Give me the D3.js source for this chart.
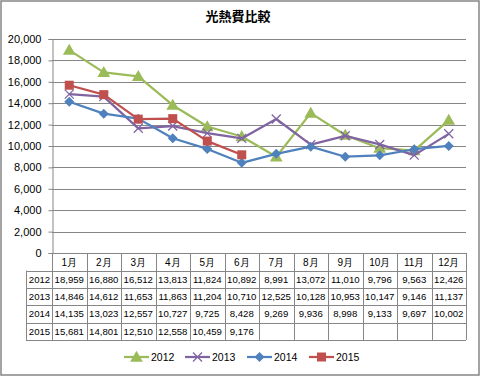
<!DOCTYPE html>
<html>
<head>
<meta charset="utf-8">
<script src="https://cdn.jsdelivr.net/npm/d3@7"></script>
<style>
  body { margin: 0; background: #fff; }
  svg text { font-family: "Liberation Sans", Arial, sans-serif; fill: #000; }
</style>
</head>
<body>
<svg id="chart" width="481" height="377"></svg>
<script>
// values
var months = ["1月", "2月", "3月", "4月", "5月", "6月", "7月", "8月", "9月", "10月", "11月", "12月"];
var years = ["2012", "2013", "2014", "2015"];
var v2012 = [18959, 16880, 16512, 13813, 11824, 10892, 8991, 13072, 11010, 9796, 9563, 12426];
var v2013 = [14846, 14612, 11653, 11863, 11204, 10710, 12525, 10128, 10953, 10147, 9146, 11137];
var v2014 = [14135, 13023, 12557, 10727, 9725, 8428, 9269, 9936, 8998, 9133, 9697, 10002];
var v2015 = [15681, 14801, 12510, 12558, 10459, 9176];
var yTicks = [0, 2000, 4000, 6000, 8000, 10000, 12000, 14000, 16000, 18000, 20000];

var seriesVals = [v2012, v2013, v2014, v2015];
var colors = ["#9bbb59", "#8064a2", "#4f81bd", "#c0504d"];
var shapes = ["triangle", "cross", "diamond", "square"];

var svg = d3.select("#chart");
var fmt = d3.format(",");

var x = d3.scaleBand().domain(months).range([52, 466]);
var y = d3.scaleLinear().domain([0, 20000]).range([253, 39]);

// outer border
svg.append("rect")
    .attr("x", 1).attr("y", 1).attr("width", 478).attr("height", 374)
    .attr("fill", "#fff").attr("stroke", "#868686").attr("stroke-width", 1.5);

// title
svg.append("text")
    .attr("x", 238).attr("y", 21)
    .attr("text-anchor", "middle")
    .style("font-size", "13px").style("font-weight", "bold")
    .style("font-family", "'Noto Sans CJK JP', sans-serif")
    .text("光熱費比較");

// gridlines
svg.append("g").selectAll("line").data(yTicks.filter(function (d) { return d > 0; }))
    .enter().append("line")
    .attr("x1", 52).attr("x2", 466)
    .attr("y1", function (d) { return Math.round(y(d)) + 0.5; })
    .attr("y2", function (d) { return Math.round(y(d)) + 0.5; })
    .attr("stroke", "#868686").attr("stroke-width", 1);

// y axis
var yAxis = svg.append("g")
    .attr("transform", "translate(52.5,0)")
    .call(d3.axisLeft(y).tickValues(yTicks).tickFormat(fmt).tickSize(4).tickPadding(7));
yAxis.select(".domain").attr("stroke", "#868686");
yAxis.selectAll(".tick line").attr("stroke", "#868686");
yAxis.selectAll("text").style("font-size", "11px").attr("fill", "#000")
    .style("font-family", "'Liberation Sans', Arial, sans-serif");

// data table
var rowTop = 253, headH = 17.7, rowH = 17.3;
var tbl = svg.append("g");
var tblBottom = rowTop + headH + rowH * 4;
// horizontal lines
tbl.append("line").attr("x1", 52).attr("x2", 466).attr("y1", rowTop + 0.5).attr("y2", rowTop + 0.5)
    .attr("stroke", "#868686");
[0, 1, 2, 3, 4].forEach(function (i) {
    var yy = Math.round(rowTop + headH + rowH * i) + 0.5;
    tbl.append("line").attr("x1", 26).attr("x2", 466).attr("y1", yy).attr("y2", yy)
        .attr("stroke", "#868686");
});
// vertical lines
tbl.append("line").attr("x1", 26.5).attr("x2", 26.5)
    .attr("y1", rowTop + headH).attr("y2", tblBottom).attr("stroke", "#868686");
months.forEach(function (m) {
    var xx = Math.round(x(m)) + 0.5;
    tbl.append("line").attr("x1", xx).attr("x2", xx)
        .attr("y1", rowTop).attr("y2", tblBottom).attr("stroke", "#868686");
});
tbl.append("line").attr("x1", 466.5).attr("x2", 466.5)
    .attr("y1", rowTop).attr("y2", tblBottom).attr("stroke", "#868686");

// month header
tbl.selectAll("text.month").data(months).enter().append("text")
    .attr("class", "month")
    .attr("x", function (d) { return x(d) + x.bandwidth() / 2; })
    .attr("y", rowTop + headH / 2 + 4)
    .attr("text-anchor", "middle")
    .style("font-size", "10px")
    .text(function (d) { return d; });

// rows
years.forEach(function (yr, i) {
    var cy = rowTop + headH + rowH * i + rowH / 2 + 3.5;
    tbl.append("text").attr("x", 39.5).attr("y", cy).attr("text-anchor", "middle")
        .style("font-size", "9.6px").text(yr);
    tbl.selectAll("text.v" + yr).data(seriesVals[i]).enter().append("text")
        .attr("class", "v" + yr)
        .attr("x", function (d, j) { return x(months[j]) + x.bandwidth() / 2; })
        .attr("y", cy)
        .attr("text-anchor", "middle")
        .style("font-size", "9.6px")
        .text(function (d) { return fmt(d); });
});

// marker drawing
function marker(g, shape, color, cx, cy) {
    if (shape == "triangle") {
        g.append("path").attr("d", d3.symbol(d3.symbolTriangle, 70)())
            .attr("transform", "translate(" + cx + "," + (cy + 1) + ")")
            .attr("fill", color);
    } else if (shape == "diamond") {
        g.append("path").attr("d", "M0,-5L5,0L0,5L-5,0Z")
            .attr("transform", "translate(" + cx + "," + cy + ")")
            .attr("fill", color);
    } else if (shape == "square") {
        g.append("rect").attr("x", cx - 4.5).attr("y", cy - 4.5)
            .attr("width", 9).attr("height", 9).attr("fill", color);
    } else {
        g.append("path").attr("d", "M-4.5,-4.5L4.5,4.5M-4.5,4.5L4.5,-4.5")
            .attr("transform", "translate(" + cx + "," + cy + ")")
            .attr("stroke", color).attr("stroke-width", 1.3).attr("fill", "none");
    }
}

// lines
var line = d3.line()
    .x(function (d, j) { return x(months[j]) + x.bandwidth() / 2; })
    .y(function (d) { return y(d); });

seriesVals.forEach(function (vals, i) {
    var g = svg.append("g");
    g.append("path").datum(vals)
        .attr("d", line)
        .attr("fill", "none")
        .attr("stroke", colors[i])
        .attr("stroke-width", 2.25)
        .attr("stroke-linejoin", "round");
    vals.forEach(function (d, j) {
        marker(g, shapes[i], colors[i], x(months[j]) + x.bandwidth() / 2, y(d));
    });
});

// legend
var legendX = [124, 185, 247, 309];
var legendY = 357;
years.forEach(function (yr, i) {
    var g = svg.append("g");
    g.append("line").attr("x1", legendX[i]).attr("x2", legendX[i] + 25)
        .attr("y1", legendY).attr("y2", legendY)
        .attr("stroke", colors[i]).attr("stroke-width", 2.25);
    marker(g, shapes[i], colors[i], legendX[i] + 12.5, legendY);
    g.append("text").attr("x", legendX[i] + 27).attr("y", legendY + 4)
        .style("font-size", "10.5px").text(yr);
});
</script>
</body>
</html>
